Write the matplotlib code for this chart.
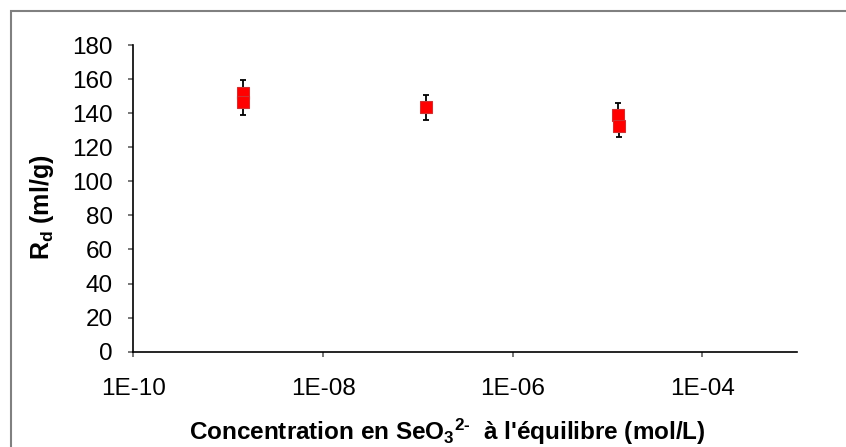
import numpy as np
import matplotlib
matplotlib.use("Agg")
import matplotlib.pyplot as plt
from matplotlib.patches import Rectangle

plt.rcParams['font.family'] = ['Liberation Sans', 'DejaVu Sans']
plt.rcParams['mathtext.fontset'] = 'custom'
plt.rcParams['mathtext.rm'] = 'Liberation Sans:bold'
plt.rcParams['mathtext.bf'] = 'Liberation Sans:bold'
plt.rcParams['mathtext.default'] = 'bf'

# données
concentration = [1.43e-9, 1.45e-9, 1.23e-7, 1.28e-5, 1.31e-5]
rd = [152.0, 146.4, 143.4, 138.9, 132.5]
rd_err = [7.6, 7.3, 7.2, 6.9, 6.6]

x_ticks = [1e-10, 1e-8, 1e-6, 1e-4]
x_ticklabels = ['1E-10', '1E-08', '1E-06', '1E-04']
y_ticks = list(range(0, 181, 20))

W, H = 846, 447
fig = plt.figure(figsize=(W / 100, H / 100), dpi=100)
ax = fig.add_axes([133.3 / W, 1 - 351.7 / H, (797.3 - 133.3) / W, (351.7 - 45) / H])

# cadre de la zone du graphique
fig.patches.append(Rectangle((11 / W, -0.1), 1.2, 1 - 11 / H + 0.1,
                             transform=fig.transFigure, fill=False,
                             edgecolor='#808080', linewidth=1.5))

ax.errorbar(concentration, rd, yerr=rd_err, fmt='none', ecolor='black',
            elinewidth=1.3, capsize=2.4, capthick=1.3, zorder=2)
ax.plot(concentration, rd, linestyle='none', marker='s', markersize=8.6,
        markerfacecolor='#ff0000', markeredgecolor='#d03030',
        markeredgewidth=0.8, zorder=3)

ax.set_xscale('log')
ax.set_xlim(1e-10, 1e-3)
ax.set_ylim(0, 180)
ax.set_xticks(x_ticks)
ax.set_xticklabels(x_ticklabels)
ax.xaxis.set_minor_locator(matplotlib.ticker.NullLocator())
ax.set_yticks(y_ticks)

for s in ['top', 'right']:
    ax.spines[s].set_visible(False)
for s in ['left', 'bottom']:
    ax.spines[s].set_linewidth(1.2)
    ax.spines[s].set_color('black')

ax.tick_params(axis='both', direction='out', length=3.6, width=1.2,
               color='#606060', labelsize=17.5)
ax.tick_params(axis='x', pad=15)
ax.tick_params(axis='y', pad=11)

fig.text(447.5 / W, 1 - 432 / H,
         "Concentration en SeO$_3$$^{2\\text{-}}$  à l'équilibre (mol/L)",
         ha='center', va='center', fontsize=17.5, fontweight='bold')
fig.text(42.5 / W, 1 - 207.5 / H, "R$_d$ (ml/g)", rotation=90,
         ha='center', va='center', fontsize=18, fontweight='bold')

fig.savefig('out.png', dpi=100)
